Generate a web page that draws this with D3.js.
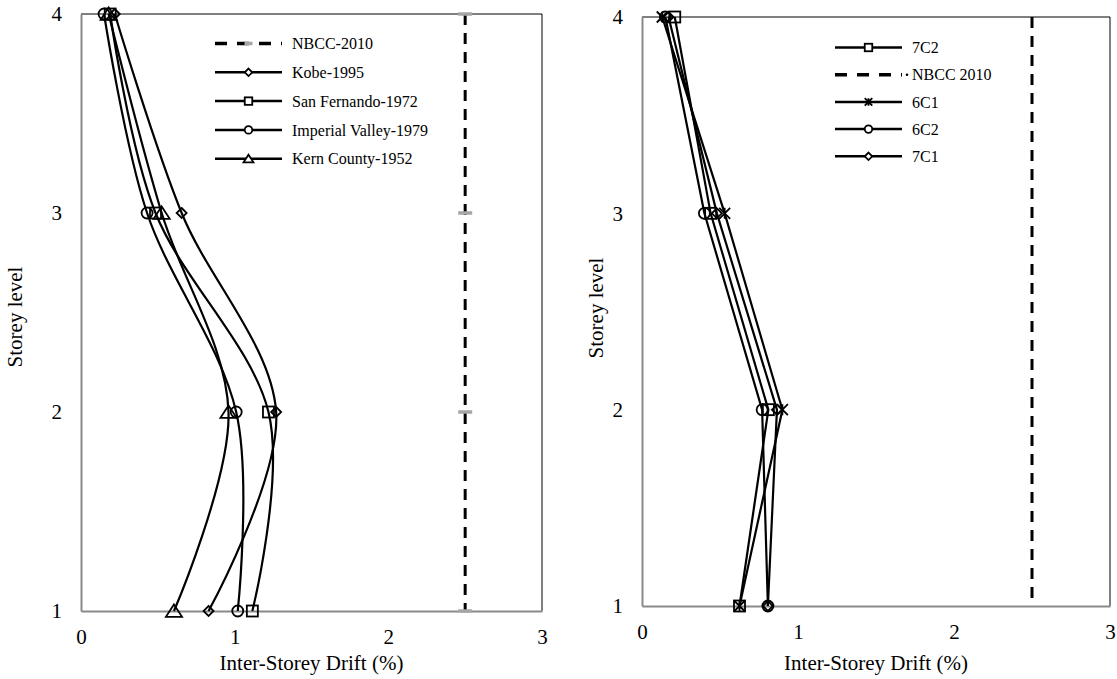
<!DOCTYPE html>
<html>
<head>
<meta charset="utf-8">
<script src="https://cdn.jsdelivr.net/npm/d3@7"></script>
<style>
  html, body { margin: 0; padding: 0; background: #fff; }
  svg { display: block; }
  text { font-family: "Liberation Serif", "Times New Roman", serif; fill: #000; }
</style>
</head>
<body>
<svg id="chart" width="1117" height="679"></svg>
<script>
// Storey levels (y) and axis ticks
const storeys = [1, 2, 3, 4];
const driftTicks = [0, 1, 2, 3];
const nbccLimit = 2.5;

// Ground-motion records: peak inter-storey drift (%) at storeys 1..4
const kobe1995 = [0.83, 1.27, 0.655, 0.22];
const sanFernando1972 = [1.115, 1.22, 0.485, 0.19];
const imperialValley1979 = [1.02, 1.01, 0.43, 0.15];
const kernCounty1952 = [0.605, 0.96, 0.525, 0.18];

// Frame configurations: peak inter-storey drift (%) at storeys 1..4
const cfg7C2 = [0.625, 0.81, 0.44, 0.21];
const cfg6C1 = [0.625, 0.90, 0.53, 0.13];
const cfg6C2 = [0.807, 0.77, 0.40, 0.15];
const cfg7C1 = [0.807, 0.865, 0.48, 0.17];

const leftSeries = [
  { name: "Kobe-1995", values: kobe1995, symbol: "diamond" },
  { name: "San Fernando-1972", values: sanFernando1972, symbol: "square" },
  { name: "Imperial Valley-1979", values: imperialValley1979, symbol: "circle" },
  { name: "Kern County-1952", values: kernCounty1952, symbol: "triangle" }
];
const leftLegend = ["NBCC-2010", "Kobe-1995", "San Fernando-1972", "Imperial Valley-1979", "Kern County-1952"];

const rightSeries = [
  { name: "7C2", values: cfg7C2, symbol: "square" },
  { name: "6C1", values: cfg6C1, symbol: "star" },
  { name: "6C2", values: cfg6C2, symbol: "circle" },
  { name: "7C1", values: cfg7C1, symbol: "diamond" }
];
const rightLegend = ["7C2", "NBCC 2010", "6C1", "6C2", "7C1"];

const svg = d3.select("#chart");
const FONT = "'Liberation Serif', 'Times New Roman', serif";

// Draws a marker shape centred at (cx, cy) with size s
function marker(g, type, cx, cy, s) {
  const h = s / 2;
  let el;
  if (type === "circle") {
    el = g.append("circle").attr("cx", cx).attr("cy", cy).attr("r", h);
  } else if (type === "square") {
    el = g.append("rect").attr("x", cx - h).attr("y", cy - h).attr("width", s).attr("height", s);
  } else if (type === "diamond") {
    el = g.append("path").attr("d", `M${cx},${cy - h}L${cx + h},${cy}L${cx},${cy + h}L${cx - h},${cy}Z`);
  } else if (type === "triangle") {
    const w = s * 0.62;
    el = g.append("path").attr("d", `M${cx},${cy - h}L${cx + w},${cy + h * 0.9}L${cx - w},${cy + h * 0.9}Z`);
  } else if (type === "star") {
    el = g.append("path").attr("d",
      `M${cx - h},${cy - h}L${cx + h},${cy + h}M${cx - h},${cy + h}L${cx + h},${cy - h}M${cx},${cy - h}L${cx},${cy + h}`);
  }
  el.attr("fill", "none").attr("stroke", "#000").attr("stroke-width", 1.8);
  return el;
}

function panel(opts) {
  const { x0, x1, yTop, yBot, series, curve, nbccMarks, legend, legendX, legendY, legendStep,
          tickLabelX, yTitleX, yTitleY } = opts;
  const g = svg.append("g");
  const x = d3.scaleLinear().domain([0, 3]).range([x0, x1]);
  const y = d3.scaleLinear().domain([1, 4]).range([yBot, yTop]);

  // frame: grey value axes at left/bottom, thin black top/right edges
  g.append("line").attr("x1", x0).attr("x2", x1).attr("y1", yTop).attr("y2", yTop)
    .attr("stroke", "#000").attr("stroke-width", 1);
  g.append("line").attr("x1", x1).attr("x2", x1).attr("y1", yTop).attr("y2", yBot)
    .attr("stroke", "#000").attr("stroke-width", 1);

  const xAxis = g.append("g").attr("transform", `translate(0,${yBot})`)
    .call(d3.axisBottom(x).tickValues(driftTicks).tickSize(0).tickPadding(18).tickFormat(d3.format("d")));
  xAxis.attr("font-family", null).attr("font-size", null);
  xAxis.select(".domain").attr("stroke", "#898989").attr("stroke-width", 2);
  xAxis.selectAll("text").style("font-size", "21px").style("font-family", FONT);

  const yAxis = g.append("g").attr("transform", `translate(${x0},0)`)
    .call(d3.axisLeft(y).tickValues(storeys).tickSize(0).tickPadding(x0 - tickLabelX).tickFormat(d3.format("d")));
  yAxis.attr("font-family", null).attr("font-size", null);
  yAxis.select(".domain").attr("stroke", "#898989").attr("stroke-width", 2);
  yAxis.selectAll("text").style("font-size", "21px").style("font-family", FONT);

  // axis titles
  g.append("text").attr("x", (x0 + x1) / 2).attr("y", 670).attr("text-anchor", "middle")
    .style("font-size", "21px").style("font-family", FONT).text("Inter-Storey Drift (%)");
  g.append("text").attr("transform", `translate(${yTitleX},${yTitleY}) rotate(-90)`)
    .attr("text-anchor", "middle").attr("dy", "0.35em")
    .style("font-size", "21px").style("font-family", FONT).text("Storey level");

  // NBCC drift limit
  g.append("line").attr("x1", x(nbccLimit)).attr("x2", x(nbccLimit)).attr("y1", yTop).attr("y2", yBot)
    .attr("stroke", "#000").attr("stroke-width", 3).attr("stroke-dasharray", "11,8");
  if (nbccMarks) {
    storeys.forEach(s => {
      g.append("line").attr("x1", x(nbccLimit) - 7).attr("x2", x(nbccLimit) + 7)
        .attr("y1", y(s)).attr("y2", y(s)).attr("stroke", "#a6a6a6").attr("stroke-width", 3.5);
    });
  }

  // series
  const line = d3.line().x(d => x(d.v)).y(d => y(d.s)).curve(curve);
  series.forEach(sr => {
    const pts = storeys.map((s, i) => ({ s, v: sr.values[i] }));
    g.append("path").datum(pts).attr("d", line).attr("fill", "none")
      .attr("stroke", "#000").attr("stroke-width", 2.2);
  });
  series.forEach(sr => {
    storeys.forEach((s, i) => {
      const size = sr.symbol === "triangle" ? 13 : sr.symbol === "diamond" ? 10 : 11;
      marker(g, sr.symbol, x(sr.values[i]), y(s), size);
    });
  });

  // legend
  const lg = g.append("g");
  legend.forEach((name, i) => {
    const ly = legendY + i * legendStep;
    const lx0 = legendX, lx1 = legendX + 67;
    const sr = series.find(d => d.name === name);
    if (sr) {
      lg.append("line").attr("x1", lx0).attr("x2", lx1).attr("y1", ly).attr("y2", ly)
        .attr("stroke", "#000").attr("stroke-width", 2.5);
      const size = sr.symbol === "triangle" ? 8 : 7.5;
      marker(lg, sr.symbol, (lx0 + lx1) / 2, ly, size).attr("fill", "#fff");
    } else {
      lg.append("line").attr("x1", lx0).attr("x2", lx1).attr("y1", ly).attr("y2", ly)
        .attr("stroke", "#000").attr("stroke-width", 3.5).attr("stroke-dasharray", "12,10");
      if (nbccMarks) {
        lg.append("line").attr("x1", (lx0 + lx1) / 2 - 4).attr("x2", (lx0 + lx1) / 2 + 4)
          .attr("y1", ly).attr("y2", ly).attr("stroke", "#a6a6a6").attr("stroke-width", 3.5);
      } else {
        lg.append("circle").attr("cx", lx1 + 5).attr("cy", ly).attr("r", 1.3).attr("fill", "#000");
      }
    }
    lg.append("text").attr("x", lx1 + 10).attr("y", ly).attr("dy", "0.35em")
      .style("font-size", "16px").style("font-family", FONT).text(name);
  });
}

panel({
  x0: 81, x1: 542, yTop: 14, yBot: 611,
  series: leftSeries, curve: d3.curveCatmullRom.alpha(0), nbccMarks: true,
  legend: leftLegend, legendX: 215, legendY: 43.5, legendStep: 28.8,
  tickLabelX: 62, yTitleX: 15, yTitleY: 317
});

panel({
  x0: 642, x1: 1110, yTop: 17, yBot: 606,
  series: rightSeries, curve: d3.curveLinear, nbccMarks: false,
  legend: rightLegend, legendX: 835, legendY: 47.5, legendStep: 27.2,
  tickLabelX: 623, yTitleX: 596, yTitleY: 308
});
</script>
</body>
</html>
